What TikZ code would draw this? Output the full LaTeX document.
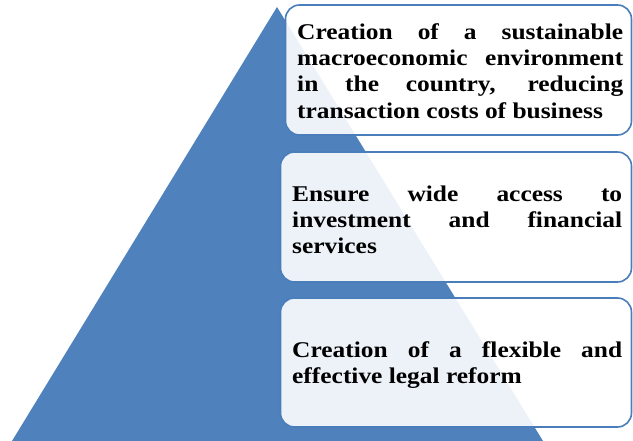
\documentclass[tikz,border=0pt]{standalone}
\usepackage{fontspec}
\setmainfont{Liberation Serif}[FakeStretch=1.13]
\hyphenpenalty=10000
\definecolor{pyrblue}{HTML}{4F81BD}
\definecolor{edgeblue}{HTML}{4A7EBB}
\tikzset{
  levelbox/.style={rectangle, rounded corners=14pt, draw=edgeblue, line width=1.6pt,
    fill=white, fill opacity=0.9, text opacity=1, inner xsep=0pt, inner ysep=0pt},
  leveltext/.style={align=justify, anchor=west, inner sep=0pt,
    font=\fontsize{22.5}{26.2}\selectfont\bfseries}
}
\begin{document}
\begin{tikzpicture}[x=1pt,y=-1pt]
\useasboundingbox (0,0) rectangle (633,441);
\begin{scope}
\clip (0,0) rectangle (633,441);
\fill[pyrblue] (277,7) -- (12,441) -- (543,441) -- cycle;
\end{scope}
\node[levelbox, minimum width=346pt, minimum height=130pt] (b1) at (458.5,70) {};
\node[levelbox, minimum width=351pt, minimum height=130pt] (b2) at (456,217) {};
\node[levelbox, minimum width=351pt, minimum height=129pt] (b3) at (456,362.5) {};
\node[leveltext, text width=326pt] (t1) at (297,71) {Creation of a sustainable\linebreak macroeconomic environment\linebreak in the country, reducing\linebreak transaction costs of business};
\node[leveltext, text width=330pt] (t2) at (292,220) {Ensure wide access to\linebreak investment and financial\linebreak services};
\node[leveltext, text width=330pt] (t3) at (292,365) {Creation of a flexible and\linebreak effective legal reform};
\end{tikzpicture}
\end{document}
